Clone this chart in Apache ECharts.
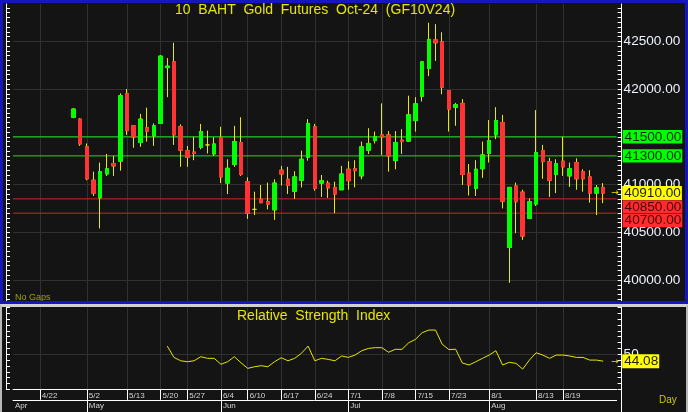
<!DOCTYPE html>
<html><head><meta charset="utf-8">
<script src="https://cdn.jsdelivr.net/npm/echarts@6/dist/echarts.min.js"></script>
<style>
html,body{margin:0;padding:0;background:#141414;}
#wrap{position:relative;width:688px;height:412px;overflow:hidden;background:#141414;}
#chart{position:absolute;left:0;top:0;width:688px;height:412px;}
.f{position:absolute;pointer-events:none;box-sizing:border-box;}
</style></head><body>
<div id="wrap">
<div id="chart"></div>
<div class="f" style="left:0;top:0;width:688px;height:304px;border:3px solid #1616c0;"></div>
<div class="f" style="left:0;top:304px;width:688px;height:108px;border-top:3px solid #d0d0d0;border-left:2px solid #b8b8b8;border-right:2px solid #b8b8b8;"></div>
<div class="f" style="left:621px;top:389px;width:1px;height:23px;background:#ffffff;"></div>
</div>
<script>
// ---- data ----
const dates = ['4/11','4/17','4/18','4/19','4/22','4/23','4/24','4/25','4/26','4/29','4/30',
 '5/2','5/3','5/7','5/8','5/9','5/10','5/13','5/14','5/15','5/16','5/17','5/20','5/21','5/23','5/24','5/27','5/28','5/29','5/30','5/31',
 '6/4','6/5','6/6','6/7','6/10','6/11','6/12','6/13','6/14','6/17','6/18','6/19','6/20','6/21','6/24','6/25','6/26','6/27','6/28',
 '7/1','7/2','7/3','7/4','7/5','7/8','7/9','7/10','7/11','7/12','7/15','7/16','7/17','7/18','7/19','7/23','7/24','7/25','7/26','7/30','7/31',
 '8/1','8/2','8/5','8/6','8/7','8/8','8/9','8/13','8/14','8/15','8/16','8/19','8/20','8/21','8/22','8/23','8/26','8/27','8/28','8/29'];
const firstCandle = '4/29';
const openP = [41705,41685,41395,41045,40860,41110,41220,41245,41950,41615,
 41440,41595,41510,41640,42225,42285,41605,41355,41340,41390,
 41415,41320,41495,41015,41210,41440,41030,40740,40845,40820,
 40735,41150,41055,40930,41045,41285,41605,41015,41015,40970,
 40945,41160,41165,41090,41360,41460,41520,41520,41250,41465,
 41455,41670,41925,42215,42515,42495,41985,41810,41850,41120,
 40960,41165,41325,41520,41650,40340,40985,40920,40645,40795,
 41355,41240,41105,41245,41090,41230,41135,41080,40910,40970];
const closeP = [41790,41425,41060,40910,41135,41165,41195,41930,41565,41500,
 41685,41560,41615,42345,42240,41520,41360,41285,41325,41555,
 41415,41425,41080,41170,41450,41105,40700,40740,40810,40795,
 41015,41110,40990,41080,41265,41640,40960,41040,40965,40900,
 41110,41040,41145,41395,41430,41500,41500,41300,41440,41450,
 41730,41845,42285,42520,42485,42020,41790,41835,41105,40995,
 41160,41310,41460,41670,40825,40970,40820,40460,40820,41335,
 41240,41045,41220,41185,41165,41060,41060,40910,40965,40910];
const highP = [41800,41695,41430,41135,41230,41320,41300,41955,42000,41615,
 41740,41805,41640,42355,42325,42485,41630,41405,41500,41635,
 41565,41495,41605,41265,41615,41705,41075,40925,40995,41020,
 41055,41195,41185,41140,41355,41685,41635,41100,41040,41030,
 41195,41245,41255,41450,41590,41555,41850,41560,41560,41580,
 41930,41915,42295,42695,42680,42595,41990,41855,41895,41215,
 41255,41450,41675,41810,41730,40975,41020,40945,40855,41780,
 41415,41280,41265,41500,41230,41275,41160,41150,40995,41015];
const lowP = [41695,41405,41045,40880,40540,41090,41090,41145,41520,41385,
 41395,41450,41405,41635,41915,41415,41185,41185,41255,41370,
 41325,41300,41015,40900,41185,41090,40640,40680,40805,40740,
 40630,40990,40900,40850,40970,41250,40935,40870,40860,40700,
 40945,40945,40970,41055,41320,41430,41310,41135,41160,41320,
 41445,41555,41870,42135,42295,41945,41555,41615,40995,40885,
 40880,41070,41230,41475,40750,39970,40490,40420,40645,40775,
 41060,40870,40910,41090,40975,40945,40925,40810,40680,40805];
const firstRsi = '5/21';
const rsiValues = [57.0,47.3,44.4,43.6,44.4,47.9,46.5,46.5,41.4,43.6,
 47.9,42.7,37.9,39.3,40.2,39.3,43.6,47.0,44.4,46.5,
 50.8,57.0,44.4,46.5,45.6,44.4,48.5,47.3,49.3,53.0,
 55.0,55.6,55.6,51.7,54.2,54.2,59.8,62.7,68.4,70.7,
 70.7,58.5,54.0,54.3,42.5,40.8,43.6,46.5,49.3,53.0,
 40.8,43.1,42.2,37.3,45.0,51.3,49.3,46.5,49.3,49.3,
 48.5,47.3,47.3,45.0,45.0,44.08];
const priceTicks = [40000,40500,41000,41500,42000,42500];
const greenLevels = [41500,41300];
const redLevels = [40850,40700];
const dateTicks = ['4/22','5/2','5/13','5/20','5/27','6/4','6/10','6/17','6/24','7/1','7/8','7/15','7/23','8/1','8/13','8/19'];
const monthStarts = ['4/11','5/2','6/4','7/1','8/1'];
const monthNames = ['Apr','May','Jun','Jul','Aug'];
const rsiLabelTicks = [50];

// ---- build ----
const c0 = dates.indexOf(firstCandle);
const wickData = openP.map((o,i)=>[dates[c0+i], o, closeP[i], lowP[i], highP[i]]);
const bodyData = openP.map((o,i)=>[dates[c0+i], o, closeP[i], Math.min(o,closeP[i]), Math.max(o,closeP[i])]).filter(d=>d[1]!==d[2]);
const r0 = dates.indexOf(firstRsi);
const rsiData = rsiValues.map((v,i)=>[dates[r0+i], v]);
const lastCandleDate = dates[c0 + closeP.length - 1];
const lastClose = closeP[closeP.length-1];

const PMIN = 39780, PMAX = 42891;
const tick50 = []; for (let v = 39800; v <= 42850; v += 50) tick50.push(v);
const rsiTicks = []; for (let v = 20; v <= 90; v += 5) rsiTicks.push(v);

const FONT = 'Liberation Sans, Arial, sans-serif';
const GRIDC = '#303030';
const WICK = '#e8e800';
const LBL = '#eef2ff';
const GREEN_LINE = '#22d822', RED_LINE = '#d02626';
const isDate = (i, v) => dateTicks.indexOf(v) >= 0;
const isMonthTick = (i, v) => monthStarts.indexOf(v) > 0;
const isMonthLabel = (i, v) => monthStarts.indexOf(v) >= 0;

const valOf = p => Number(Array.isArray(p.value) ? p.value[1] : p.value);
const boxLabel = (bg, fg, extra) => Object.assign({
  show: true, distance: 6, fontSize: 13.6, fontFamily: FONT,
  color: fg, backgroundColor: bg, padding: [0, 1, 0, 2], lineHeight: 13.4,
  align: 'left', verticalAlign: 'middle',
  formatter: p => valOf(p).toFixed(2)
}, extra || {});
const arrowLabel = (bg, fg, dist) => ({
  show: true, distance: dist, fontFamily: FONT, align: 'left', verticalAlign: 'middle',
  formatter: p => '{a|→}{b|' + valOf(p).toFixed(2) + '}',
  rich: {a: {color: WICK, fontSize: 9, width: 11, fontFamily: 'DejaVu Sans'},
         b: {backgroundColor: bg, color: fg, fontSize: 13.6, padding: [0, 1, 0, 2], lineHeight: 13.4, fontFamily: FONT}}
});

const firstDate = dates[0], lastDate = dates[dates.length - 1];
const levelSeries = (v, color, bg, fg, extra) => ({
  type: 'line', xAxisIndex: 0, yAxisIndex: 0, silent: true, symbol: 'none', showSymbol: false, z: 2,
  data: [[firstDate, v], [lastDate, v]],
  lineStyle: {color: color, width: 1, opacity: 1},
  endLabel: boxLabel(bg, fg, extra)
});

const hiddenAxis = {axisLine: {show: false}, axisLabel: {show: false}};

const option = {
  animation: false,
  backgroundColor: 'transparent',
  textStyle: {fontFamily: FONT},
  title: [
    {text: '10  BAHT  Gold  Futures  Oct-24  (GF10V24)', left: 175, top: 3, padding: 0,
     textStyle: {color: '#e6e600', fontSize: 14, fontWeight: 'normal', fontFamily: FONT}},
    {text: 'Relative  Strength  Index', left: 237, top: 309, padding: 0,
     textStyle: {color: '#e6e600', fontSize: 14, fontWeight: 'normal', fontFamily: FONT}},
    {text: 'No Gaps', left: 15, top: 293, padding: 0,
     textStyle: {color: '#a0a000', fontSize: 9, fontWeight: 'normal', fontFamily: FONT}},
    {text: 'Day', left: 659, top: 395, padding: 0,
     textStyle: {color: '#c8c800', fontSize: 10, fontWeight: 'normal', fontFamily: FONT}}
  ],
  grid: [
    {left: 13, right: 71.4, top: 4, height: 297, containLabel: false, outerBoundsMode: 'none'},
    {left: 13, right: 71.4, top: 307.5, height: 81.8, containLabel: false, outerBoundsMode: 'none'}
  ],
  xAxis: [
    {type: 'category', gridIndex: 0, position: 'bottom', data: dates, boundaryGap: false,
     axisLine: {show: false}, axisTick: {show: false}, axisLabel: {show: false},
     splitLine: {show: true, interval: isDate, lineStyle: {color: GRIDC, width: 1}}},
    {type: 'category', gridIndex: 1, position: 'bottom', data: dates, boundaryGap: false,
     axisLine: {show: true, lineStyle: {color: '#ffffff', width: 1}},
     axisTick: {show: true, interval: isDate, length: 10.5, inside: false, lineStyle: {color: '#ffffff'}},
     axisLabel: {show: true, interval: isDate, align: 'left', margin: 2.5, color: '#d4d4d4', fontSize: 8, padding: [0, 0, 0, 2], fontFamily: FONT},
     splitLine: {show: true, interval: isDate, lineStyle: {color: GRIDC, width: 1}}},
    {type: 'category', gridIndex: 1, position: 'bottom', offset: 10.5, data: dates, boundaryGap: false,
     axisLine: {show: true, lineStyle: {color: '#ffffff', width: 1}},
     axisTick: {show: true, interval: isMonthTick, length: 13, inside: false, lineStyle: {color: '#ffffff'}},
     axisLabel: {show: true, interval: isMonthLabel, align: 'left', margin: 2, color: '#d4d4d4', fontSize: 8, padding: [0, 0, 0, 2], fontFamily: FONT,
       formatter: v => monthNames[monthStarts.indexOf(v)] || ''},
     splitLine: {show: false}}
  ],
  yAxis: [
    {type: 'value', gridIndex: 0, position: 'right', offset: 5, min: PMIN, max: PMAX,
     axisLine: {show: true, lineStyle: {color: '#ffffff', width: 1}},
     axisTick: {show: true, inside: true, length: 4, customValues: tick50, lineStyle: {color: '#ffffff'}},
     axisLabel: {show: true, customValues: priceTicks, margin: 2, color: LBL, fontSize: 13.6, fontFamily: FONT, formatter: v => Number(v).toFixed(2)},
     splitLine: {show: false}},
    {type: 'value', gridIndex: 0, position: 'left', offset: 7, min: PMIN, max: PMAX,
     axisLine: {show: true, lineStyle: {color: '#ffffff', width: 1}},
     axisTick: {show: true, inside: true, length: 4, customValues: tick50, lineStyle: {color: '#ffffff'}},
     axisLabel: {show: false}, splitLine: {show: false}},
    Object.assign({type: 'value', gridIndex: 0, position: 'right', min: PMIN, max: PMAX,
     splitLine: {show: true, lineStyle: {color: GRIDC, width: 1}}}, hiddenAxis, {axisTick: {show: false, customValues: priceTicks}}),
    {type: 'value', gridIndex: 1, position: 'right', offset: 5, min: 20, max: 90,
     axisLine: {show: true, lineStyle: {color: '#ffffff', width: 1}},
     axisTick: {show: true, inside: true, length: 4, customValues: rsiTicks, lineStyle: {color: '#ffffff'}},
     axisLabel: {show: true, customValues: rsiLabelTicks, margin: 2, color: LBL, fontSize: 13.6, fontFamily: FONT},
     splitLine: {show: false}},
    {type: 'value', gridIndex: 1, position: 'left', offset: 7, min: 20, max: 90,
     axisLine: {show: true, lineStyle: {color: '#ffffff', width: 1}},
     axisTick: {show: true, inside: true, length: 4, customValues: rsiTicks, lineStyle: {color: '#ffffff'}},
     axisLabel: {show: false}, splitLine: {show: false}},
    Object.assign({type: 'value', gridIndex: 1, position: 'right', min: 20, max: 90,
     splitLine: {show: true, lineStyle: {color: GRIDC, width: 1}}}, hiddenAxis, {axisTick: {show: false, customValues: rsiLabelTicks}})
  ],
  series: [
    levelSeries(greenLevels[0], GREEN_LINE, '#00ff00', '#0a2a0a'),
    levelSeries(greenLevels[1], GREEN_LINE, '#00ff00', '#0a2a0a'),
    levelSeries(redLevels[0], RED_LINE, '#ff2c2c', '#4a0000', {offset: [0, 8]}),
    levelSeries(redLevels[1], RED_LINE, '#ff2c2c', '#4a0000', {offset: [0, 7.5]}),
    {type: 'candlestick', name: 'range', xAxisIndex: 0, yAxisIndex: 0, barWidth: 4, silent: true, z: 3,
     encode: {x: 0, y: [1, 2, 3, 4]}, data: wickData,
     itemStyle: {color: WICK, color0: WICK, borderColor: WICK, borderColor0: WICK, borderColorDoji: WICK, borderWidth: 1}},
    {type: 'candlestick', name: 'body', xAxisIndex: 0, yAxisIndex: 0, barWidth: 4, silent: true, z: 4,
     encode: {x: 0, y: [1, 2, 3, 4]}, data: bodyData,
     itemStyle: {color: '#00ff00', color0: '#ff3333', borderColor: '#00ff00', borderColor0: '#ff3333', borderWidth: 1}},
    {type: 'line', name: 'last', xAxisIndex: 0, yAxisIndex: 0, silent: true, symbol: 'none', showSymbol: false, z: 6,
     data: [[lastCandleDate, lastClose]], lineStyle: {color: WICK, width: 1},
     endLabel: arrowLabel('#ffff00', '#222200', 8)},
    {type: 'line', name: 'RSI', xAxisIndex: 1, yAxisIndex: 3, data: rsiData, symbol: 'none', showSymbol: false, silent: true, z: 5,
     lineStyle: {color: '#e6e600', width: 1},
     endLabel: arrowLabel('#ffff00', '#222200', 8)}
  ]
};
const chart = echarts.init(document.getElementById('chart'), null, {renderer: 'canvas', width: 688, height: 412});
chart.setOption(option);
</script>
</body></html>
